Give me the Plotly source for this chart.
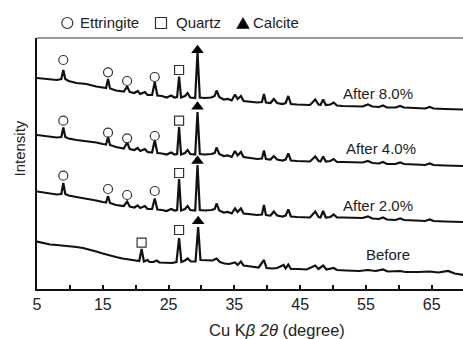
import plotly.graph_objects as go

# ---------------- data (2-theta in degrees, intensity in arbitrary units, stacked) ----------------
TWO_THETA_AFTER = [5.0, 6.5, 8.0, 8.7, 9.0, 9.3, 9.8, 11.0, 12.5, 14.0, 15.0, 15.5, 15.8, 16.1,
                   17.0, 18.2, 18.7, 19.1, 19.8, 20.3, 20.7, 21.4, 21.8, 22.5, 22.9, 23.3, 24.0,
                   24.7, 25.4, 25.9, 26.3, 26.6, 26.9, 27.5, 27.9, 28.3, 29.05, 29.4, 29.75, 30.5,
                   31.5, 32.0, 32.3, 32.7, 33.4, 34.0, 34.6, 35.1, 35.5, 36.0, 36.4, 37.3, 38.5,
                   39.2, 39.5, 39.8, 40.5, 41.0, 41.5, 42.3, 42.8, 43.2, 43.6, 44.5, 45.5, 46.5,
                   47.3, 47.8, 48.1, 48.5, 48.9, 49.6, 50.1, 50.6, 51.5, 53.0, 54.5, 55.3, 56.0,
                   57.0, 57.6, 58.2, 59.5, 60.2, 60.8, 62.5, 64.0, 64.7, 65.3, 67.0, 68.5, 69.8]

AFTER_8 = [211, 210, 209, 210, 219, 210, 208, 206, 205, 202.5, 201, 201, 210, 200.5,
           198.5, 197.5, 202.5, 197, 196, 198, 195, 197, 194, 194, 207, 193.5, 193,
           191.5, 193.5, 191.5, 192, 212.5, 191.5, 193, 196, 191.5, 191, 237, 191.5, 191,
           191.5, 193, 198.5, 192, 189.5, 190, 188.5, 194.5, 190, 193, 188, 187.5, 186.5,
           187, 195, 186.5, 186, 190, 186, 185, 186, 193, 185, 184.5, 184, 184,
           189.5, 184.5, 184, 189.5, 184, 184.5, 186.5, 183.5, 183, 182.5, 182.5, 184.5, 182.5,
           182, 183.5, 181.5, 181.5, 183, 181.5, 181, 180.5, 182, 180.5, 180, 179.5, 179.5]

AFTER_4 = [154, 153, 151.5, 152, 161.5, 152, 150.5, 149, 148, 146.5, 145, 144.5, 152, 144,
           142, 140.5, 146.5, 140, 139, 141, 138, 140, 137, 136.5, 149, 136, 135.5,
           134.5, 136.5, 134.5, 135, 162, 134.5, 136, 139, 135, 134.5, 177, 135, 134.5,
           135, 136, 141.5, 135, 133, 133.5, 132, 138, 133.5, 137, 132, 131, 130,
           130.5, 138.5, 130, 129.5, 133, 129.5, 128.5, 129.5, 135.5, 128.5, 128, 127.5, 127.5,
           132.5, 128, 127.5, 132.5, 127.5, 128, 130, 127, 127, 126.5, 126.5, 128, 126,
           125.5, 127, 125, 125, 126.5, 125, 124.5, 124, 125.5, 124, 123.5, 123, 123]

AFTER_2 = [97.5, 96, 94.5, 95, 106, 95, 93.5, 92, 90.5, 88.5, 87, 86.5, 93, 86,
           84, 83, 87.5, 82.5, 81.5, 83.5, 81, 83, 80, 80, 90.5, 79.5, 79,
           78, 80, 78.5, 79, 110, 78.5, 80, 83, 79, 78.5, 124, 79, 78.5,
           79, 80, 85.5, 78.5, 76.5, 77, 75.5, 80.5, 77, 80.5, 75.5, 75, 74,
           74.5, 84, 74, 73.5, 77.5, 73.5, 72.5, 73.5, 79.5, 72.5, 72, 71.5, 71.5,
           77.5, 72, 71.5, 78, 71.5, 72, 74.5, 71.5, 71.5, 71, 71, 72.5, 70.5,
           70, 71.5, 69.5, 69, 70.5, 69, 68.5, 68, 69.5, 68, 67.5, 67, 67]

TWO_THETA_BEFORE = [5.0, 6.0, 7.0, 8.0, 9.0, 10.0, 11.0, 12.0, 13.0, 14.0, 15.0, 16.0, 17.0,
                    18.0, 19.0, 20.0, 20.55, 20.9, 21.25, 21.8, 22.1, 22.7, 23.2, 23.6, 24.5,
                    25.5, 26.2, 26.6, 26.95, 27.5, 27.9, 28.4, 29.1, 29.5, 29.85, 30.8, 31.7,
                    32.3, 32.8, 33.5, 34.2, 35.1, 35.5, 36.0, 36.4, 37.5, 38.7, 39.5, 39.9,
                    40.8, 41.5, 42.5, 42.8, 43.2, 43.6, 44.8, 46.0, 47.3, 47.8, 48.5, 49.0,
                    50.1, 50.6, 52.0, 54.0, 55.3, 56.5, 57.6, 58.3, 60.2, 61.0, 63.0, 64.7,
                    66.0, 67.5, 68.5, 69.8]

BEFORE = [47.5, 46, 44.5, 44, 43.5, 43, 42, 41, 39.5, 37.5, 35.5, 33.5, 32,
          30.5, 29.5, 28.5, 28, 40, 27.5, 29, 27, 27, 28.5, 26.5, 26.5,
          26, 27, 51, 27, 28.5, 30.5, 27.5, 27.5, 62, 29, 28.5, 28.5,
          30.5, 27, 25.5, 25, 26.5, 24, 27.5, 23.5, 22.5, 21.5, 29, 21,
          20.5, 21, 24, 20.5, 24.5, 20, 20, 19.5, 23.5, 20, 23.5, 19.5,
          21, 19, 18.5, 18, 19, 18, 19.5, 17.5, 18, 17, 17, 17.5,
          16.5, 18, 15.5, 14]

# phase markers placed above identified peaks
ETTRINGITE_X = [9.0, 15.8, 18.7, 22.9, 9.0, 15.8, 18.7, 22.9, 9.0, 15.8, 18.7, 22.9]
ETTRINGITE_Y = [229, 216.7, 208, 212, 168.3, 156.3, 150.7, 153, 113.3, 100, 94, 98]
QUARTZ_X = [26.6, 26.6, 26.6, 20.9, 26.6]
QUARTZ_Y = [219, 168.3, 116, 46.3, 59]
CALCITE_X = [29.4, 29.4, 29.4, 29.5]
CALCITE_Y = [238.7, 182.3, 128, 67.7]

CURVE_LABELS = ["After 8.0%", "After 4.0%", "After 2.0%", "Before"]
X_TICKS = [5, 10, 15, 20, 25, 30, 35, 40, 45, 50, 55, 60, 65]
X_TICK_TEXT = ["5", "", "15", "", "25", "", "35", "", "45", "", "55", "", "65"]

# ---------------- figure ----------------
W, H = 463, 339
ML, MR, MT, MB = 37, 0, 38, 50
PW, PH = W - ML - MR, H - MT - MB


def px(x):
    return (x - ML) / PW


def py(y):
    return (H - MB - y) / PH


FONT = "Liberation Sans, Arial, sans-serif"
INK = "#111"

fig = go.Figure()
for xs, ys in [(TWO_THETA_AFTER, AFTER_8), (TWO_THETA_AFTER, AFTER_4),
               (TWO_THETA_AFTER, AFTER_2), (TWO_THETA_BEFORE, BEFORE)]:
    fig.add_trace(go.Scatter(x=xs, y=ys, mode="lines",
                             line=dict(color=INK, width=2.2), showlegend=False,
                             hoverinfo="skip"))

fig.add_trace(go.Scatter(x=ETTRINGITE_X, y=ETTRINGITE_Y, mode="markers", showlegend=False,
                         marker=dict(symbol="circle-open", size=9, color="#333",
                                     line=dict(width=1.2))))
fig.add_trace(go.Scatter(x=QUARTZ_X, y=QUARTZ_Y, mode="markers", showlegend=False,
                         marker=dict(symbol="square-open", size=9, color="#333",
                                     line=dict(width=1.2))))
fig.add_trace(go.Scatter(x=CALCITE_X, y=CALCITE_Y, mode="markers", showlegend=False,
                         marker=dict(symbol="triangle-up", size=11, color="#000")))

annotations = []
label_pos = [(377.7, 93.3), (380.5, 148.3), (378.0, 205.7), (387.5, 254.3)]
for text, (lx, ly) in zip(CURVE_LABELS, label_pos):
    annotations.append(dict(text=text, x=px(lx), y=py(ly), xref="paper", yref="paper",
                            xanchor="center", yanchor="middle", showarrow=False,
                            font=dict(family=FONT, size=15, color="#222")))

# legend texts
for text, lx in [("Ettringite", 79), ("Quartz", 175), ("Calcite", 251.5)]:
    annotations.append(dict(text=text, x=px(lx), y=py(22.5), xref="paper", yref="paper",
                            xanchor="left", yanchor="middle", showarrow=False, xshift=-1,
                            font=dict(family=FONT, size=15, color="#222")))

# axis titles
annotations.append(dict(text="Cu K<i>β</i> <i>2θ</i> (degree)", x=px(277), y=py(330),
                        xref="paper", yref="paper", xanchor="center", yanchor="middle",
                        showarrow=False, font=dict(family=FONT, size=16.5, color="#222")))
annotations.append(dict(text="Intensity", x=px(18.5), y=py(149), xref="paper", yref="paper",
                        xanchor="center", yanchor="middle", textangle=-90, showarrow=False,
                        font=dict(family=FONT, size=15, color="#222")))

shapes = [
    # top frame line
    dict(type="line", xref="paper", yref="paper", x0=0, x1=1, y0=1, y1=1,
         line=dict(color="#333", width=1)),
    # legend symbols
    dict(type="circle", xref="paper", yref="paper", xsizemode="pixel", ysizemode="pixel",
         xanchor=px(67.3), yanchor=py(23), x0=-5.5, x1=5.5, y0=-5.5, y1=5.5,
         line=dict(color="#333", width=1.2)),
    dict(type="rect", xref="paper", yref="paper", xsizemode="pixel", ysizemode="pixel",
         xanchor=px(161), yanchor=py(23), x0=-5.5, x1=5.5, y0=-5.5, y1=5.5,
         line=dict(color="#333", width=1.2)),
    dict(type="path", xref="paper", yref="paper", xsizemode="pixel", ysizemode="pixel",
         xanchor=px(243), yanchor=py(23), path="M -6.3,-5.5 L 6.3,-5.5 L 0,5.5 Z",
         fillcolor="#000", line=dict(color="#000", width=0.5)),
]

fig.update_layout(
    width=W, height=H,
    margin=dict(l=ML, r=MR, t=MT, b=MB),
    paper_bgcolor="white", plot_bgcolor="white",
    showlegend=False,
    annotations=annotations,
    shapes=shapes,
    xaxis=dict(range=[5, 69.76], showgrid=False, zeroline=False, showline=True,
               linecolor="#111", linewidth=2, ticks="inside", ticklen=4, tickwidth=1.5,
               tickcolor="#111", tickvals=X_TICKS, ticktext=X_TICK_TEXT,
               tickfont=dict(family=FONT, size=16, color="#222")),
    yaxis=dict(range=[0, 251], showgrid=False, zeroline=False, showline=True,
               linecolor="#111", linewidth=2, ticks="", showticklabels=False),
)

fig.write_html("out.html")
